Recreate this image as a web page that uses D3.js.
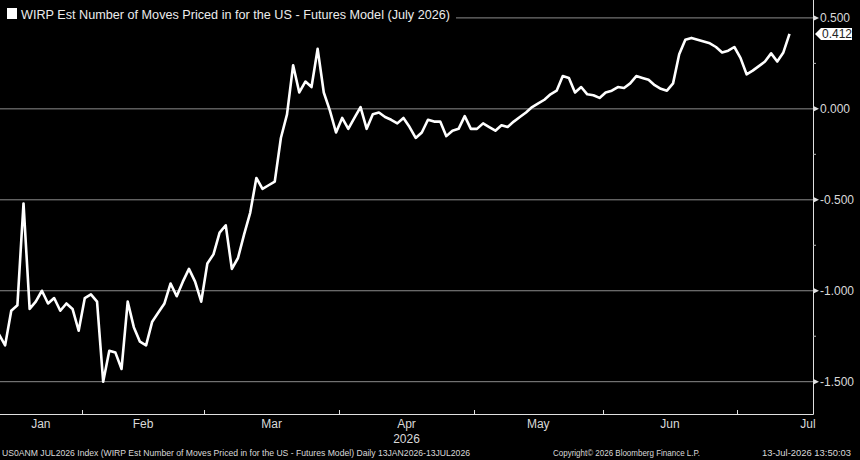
<!DOCTYPE html>
<html>
<head>
<meta charset="utf-8">
<script src="https://cdn.jsdelivr.net/npm/d3@7"></script>
<style>
  html, body { margin: 0; padding: 0; background: #000; }
  svg { display: block; }
  text { font-family: "Liberation Sans", Arial, sans-serif; fill: #d9d9d9; }
</style>
</head>
<body>
<div id="chart-area"></div>
<script>
// WIRP est. number of moves, one value per business day, 13 Jan 2026 -> 13 Jul 2026
var values = [
  -1.24, -1.30, -1.11, -1.08, -0.52, -1.10, -1.06, -1.00, -1.07, -1.04,
  -1.11, -1.07, -1.10, -1.22, -1.04, -1.02, -1.06, -1.50, -1.33, -1.34,
  -1.43, -1.06, -1.20, -1.28, -1.30, -1.17, -1.12, -1.07, -0.96, -1.03,
  -0.95, -0.88, -0.95, -1.06, -0.85, -0.80, -0.68, -0.64, -0.88, -0.82,
  -0.69, -0.57, -0.38, -0.44, -0.42, -0.40, -0.16, -0.03, 0.24, 0.09,
  0.15, 0.12, 0.33, 0.09, -0.01, -0.13, -0.05, -0.11, -0.05, 0.01,
  -0.11, -0.03, -0.02, -0.045, -0.06, -0.08, -0.05, -0.10, -0.16, -0.13,
  -0.06, -0.07, -0.07, -0.15, -0.12, -0.11, -0.04, -0.11, -0.11, -0.08,
  -0.10, -0.12, -0.09, -0.10, -0.07, -0.045, -0.02, 0.01, 0.03, 0.05,
  0.08, 0.10, 0.18, 0.17, 0.09, 0.12, 0.08, 0.075, 0.06, 0.09,
  0.10, 0.12, 0.115, 0.14, 0.18, 0.17, 0.16, 0.13, 0.11, 0.10,
  0.14, 0.30, 0.38, 0.39, 0.38, 0.37, 0.36, 0.34, 0.31, 0.32,
  0.34, 0.28, 0.19, 0.21, 0.235, 0.26, 0.305, 0.26, 0.31, 0.412
];
var yTicks = [-1.5, -1.0, -0.5, 0.0, 0.5];
var yMinor = [-1.25, -0.75, -0.25, 0.25];
var monthNames = ["Jan", "Feb", "Mar", "Apr", "May", "Jun", "Jul"];
var yearLabel = "2026";
var lastLabel = "0.412";
var title = "WIRP Est Number of Moves Priced in for the US - Futures Model (July 2026)";
var footLeft = "US0ANM JUL2026 Index (WIRP Est Number of Moves Priced in for the US - Futures Model) Daily 13JAN2026-13JUL2026";
var footMid = "Copyright\u00a9 2026 Bloomberg Finance L.P.";
var footRight = "13-Jul-2026 13:50:03";

var W = 860, H = 460;
var plotW = 813, plotH = 414;

// business days
var isWeekday = d => d.getDay() !== 0 && d.getDay() !== 6;
var days = d3.timeDay.range(new Date(2026, 0, 13), new Date(2026, 6, 14)).filter(isWeekday);
var daysFull = d3.timeDay.range(new Date(2026, 0, 13), new Date(2026, 7, 1)).filter(isWeekday);

var svg = d3.select("#chart-area").append("svg")
    .attr("width", W).attr("height", H);

svg.append("rect").attr("width", W).attr("height", H).attr("fill", "#000");

var x = d3.scaleLinear().domain([0, values.length - 1]).range([-1, 789.5]);
var y = d3.scaleLinear().domain([-1.5, 0.5]).range([381.7, 17.9]);

var fmt = d3.formatLocale({ decimal: ".", thousands: ",", grouping: [3], currency: ["$", ""], minus: "-" }).format(".3f");

// gridlines
svg.append("g").selectAll("line").data(yTicks).enter().append("line")
    .attr("x1", 0).attr("x2", plotW)
    .attr("y1", d => y(d)).attr("y2", d => y(d))
    .attr("stroke", "#8c8c8c").attr("stroke-width", 1);

// axes frame
svg.append("line").attr("x1", 0).attr("x2", plotW + 0.5).attr("y1", plotH + 0.5).attr("y2", plotH + 0.5)
    .attr("stroke", "#e0e0e0").attr("stroke-width", 1);
svg.append("line").attr("x1", plotW + 0.5).attr("x2", plotW + 0.5).attr("y1", 0).attr("y2", plotH + 0.5)
    .attr("stroke", "#e0e0e0").attr("stroke-width", 1);

// right axis ticks and labels
var ya = svg.append("g");
ya.selectAll("path.major").data(yTicks).enter().append("path")
    .attr("d", d => `M${plotW + 1},${y(d) - 2.5}L${plotW + 6},${y(d)}L${plotW + 1},${y(d) + 2.5}Z`)
    .attr("fill", "#e0e0e0");
ya.selectAll("line.minor").data(yMinor).enter().append("line")
    .attr("x1", plotW).attr("x2", plotW + 3)
    .attr("y1", d => y(d)).attr("y2", d => y(d))
    .attr("stroke", "#bbbbbb");
ya.selectAll("text").data(yTicks).enter().append("text")
    .attr("x", plotW + 7).attr("y", d => y(d) + 4.5)
    .attr("font-size", "12px")
    .text(d => fmt(d));

// month ticks on the x axis
var monthStarts = [];
daysFull.forEach((d, i) => {
    if (i === 0 || d.getMonth() !== daysFull[i - 1].getMonth()) monthStarts.push(i);
});
var xa = svg.append("g");
xa.selectAll("line").data(monthStarts.slice(1)).enter().append("line")
    .attr("x1", d => Math.round(x(d - 0.5)) + 0.5).attr("x2", d => Math.round(x(d - 0.5)) + 0.5)
    .attr("y1", plotH - 4).attr("y2", plotH)
    .attr("stroke", "#e0e0e0");

var monthCenters = monthStarts.map((s, k) => {
    var e = k + 1 < monthStarts.length ? monthStarts[k + 1] : daysFull.length;
    var a = Math.max(0, x(s - 0.5));
    var b = x(e - 0.5);
    return (a + b) / 2;
});
xa.selectAll("text.month").data(monthNames).enter().append("text")
    .attr("x", (d, i) => monthCenters[i]).attr("y", 428)
    .attr("text-anchor", "middle").attr("font-size", "12px")
    .text(d => d);
xa.append("text").attr("x", monthCenters[3]).attr("y", 443)
    .attr("text-anchor", "middle").attr("font-size", "12px").text(yearLabel);

// series line
var line = d3.line().x((d, i) => x(i)).y(d => y(d));
svg.append("path").datum(values)
    .attr("d", line)
    .attr("fill", "none")
    .attr("stroke", "#ffffff")
    .attr("stroke-width", 2.6)
    .attr("stroke-linejoin", "round");

// last value label
var ly = y(values[values.length - 1]);
svg.append("path")
    .attr("d", `M${plotW + 2},${ly}L${plotW + 8},${ly - 6}L${plotW + 39},${ly - 6}L${plotW + 39},${ly + 6}L${plotW + 8},${ly + 6}Z`)
    .attr("fill", "#ffffff");
svg.append("text").attr("x", plotW + 9).attr("y", ly + 4.5)
    .attr("font-size", "12px").style("fill", "#222").text(lastLabel);

// legend / title box
svg.append("rect").attr("x", 0).attr("y", 0).attr("width", 456).attr("height", 30).attr("fill", "#000");
svg.append("rect").attr("x", 7).attr("y", 8).attr("width", 10).attr("height", 11).attr("fill", "#ffffff");
svg.append("text").attr("x", 21).attr("y", 19)
    .attr("font-size", "12px").attr("textLength", 429).attr("lengthAdjust", "spacingAndGlyphs")
    .style("fill", "#ececec").text(title);

// footer
svg.append("text").attr("x", 2).attr("y", 456).attr("font-size", "9px")
    .attr("textLength", 468).attr("lengthAdjust", "spacingAndGlyphs").text(footLeft);
svg.append("text").attr("x", 553).attr("y", 456).attr("font-size", "9px")
    .attr("textLength", 147).attr("lengthAdjust", "spacingAndGlyphs").text(footMid);
svg.append("text").attr("x", 762).attr("y", 456).attr("font-size", "9px")
    .attr("textLength", 89).attr("lengthAdjust", "spacingAndGlyphs").text(footRight);
</script>
</body>
</html>
